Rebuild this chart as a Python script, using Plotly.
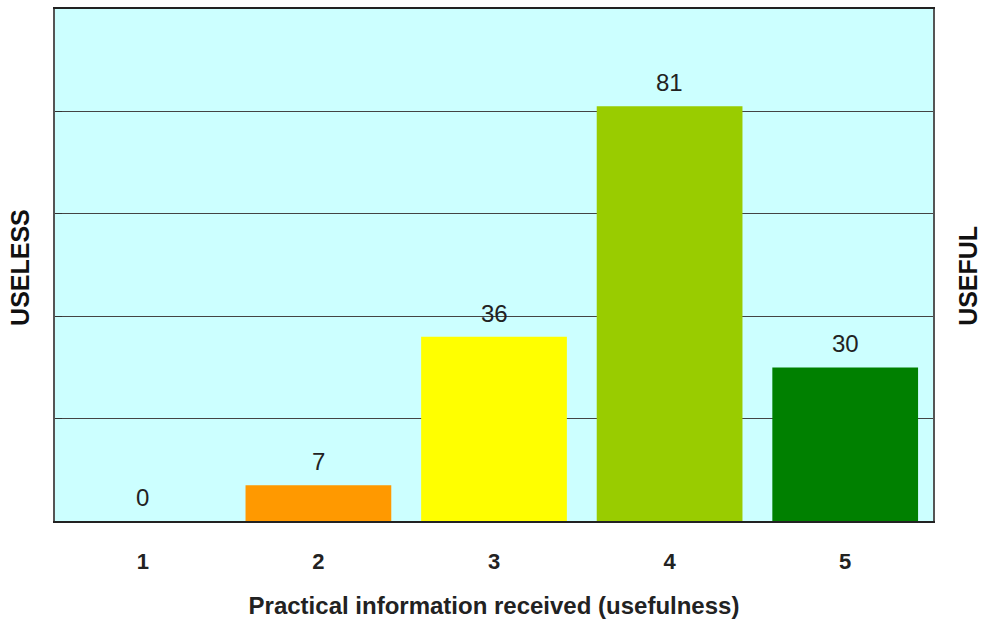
import plotly.graph_objects as go

# Ratings of practical information received, 1 (useless) to 5 (useful)
ratings = [1, 2, 3, 4, 5]
rating_labels = ["1", "2", "3", "4", "5"]
counts = [0, 7, 36, 81, 30]
bar_colors = ["#FF0000", "#FF9900", "#FFFF00", "#99CC00", "#008000"]

x_title = "Practical information received (usefulness)"
left_label = "USELESS"
right_label = "USEFUL"

FONT = "Liberation Sans, Arial, sans-serif"

fig = go.Figure(
    go.Bar(
        x=ratings,
        y=counts,
        marker=dict(color=bar_colors, line=dict(width=0)),
        width=0.83,
        hoverinfo="x+y",
    )
)

# value labels above each bar
for r, c in zip(ratings, counts):
    fig.add_annotation(
        x=r, y=c, text=str(c), showarrow=False,
        yanchor="bottom", yshift=8,
        font=dict(family=FONT, size=24, color="#222222"),
    )

fig.add_annotation(
    xref="paper", yref="paper", x=-0.04, y=0.496, text=f"<b>{left_label}</b>",
    textangle=-90, showarrow=False, xanchor="center", yanchor="middle",
    font=dict(family=FONT, size=25, color="#111111"),
)
fig.add_annotation(
    xref="paper", yref="paper", x=1.04, y=0.479, text=f"<b>{right_label}</b>",
    textangle=-90, showarrow=False, xanchor="center", yanchor="middle",
    font=dict(family=FONT, size=25, color="#111111"),
)

fig.update_layout(
    width=984, height=627,
    margin=dict(l=55, r=51, t=7, b=106),
    paper_bgcolor="white",
    plot_bgcolor="#CCFFFF",
    showlegend=False,
    font=dict(family=FONT, color="#222222"),
    xaxis=dict(
        range=[0.5, 5.5],
        tickvals=ratings,
        ticktext=[f"<b>{t}</b>" for t in rating_labels],
        tickfont=dict(family=FONT, size=22, color="#222222"),
        ticklabelstandoff=20,
        title=dict(text=f"<b>{x_title}</b>", font=dict(family=FONT, size=24, color="#222222"), standoff=24),
        showline=True, linecolor="#222222", linewidth=2, mirror=True,
        showgrid=False, ticks="", zeroline=False,
    ),
    yaxis=dict(
        range=[0, 100],
        dtick=20,
        showticklabels=False,
        showgrid=True, gridcolor="#444444", gridwidth=1,
        ticks="inside", ticklen=7, tickcolor="#333333",
        showline=True, linecolor="#555555", linewidth=2, mirror=True,
        zeroline=False,
    ),
)

fig.write_html("out.html")
